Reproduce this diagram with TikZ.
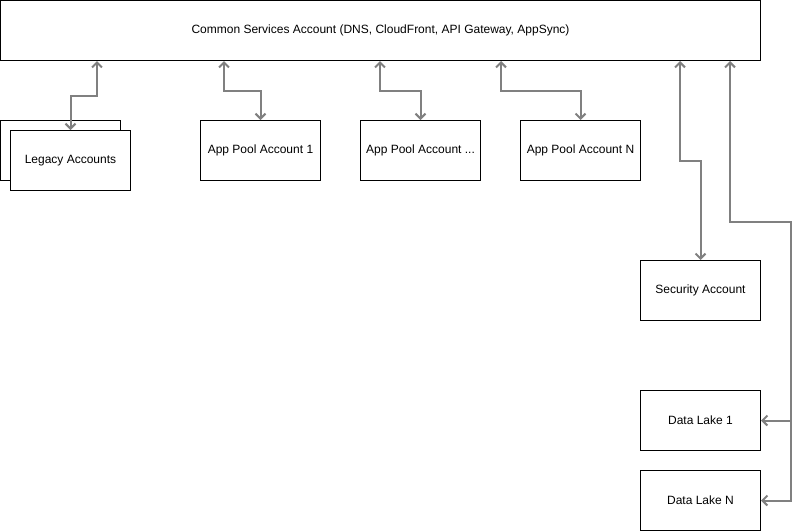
\documentclass[tikz,border=0pt]{standalone}
\usepackage{fontspec}
\setmainfont{Liberation Sans}
\usetikzlibrary{arrows.meta}

\begin{document}
\begin{tikzpicture}[x=1pt,y=-1pt]
\tikzstyle{account} = [draw=black, line width=1pt, fill=white, minimum width=120pt, minimum height=60pt, inner sep=0pt, font=\fontsize{12}{14}\selectfont]
\tikzstyle{link} = [draw=gray, line width=2pt, {Straight Barb[length=5pt,width=10pt]}-{Straight Barb[length=5pt,width=10pt]}]
\tikzstyle{branch} = [draw=gray, line width=2pt, -{Straight Barb[length=5pt,width=10pt]}]

\useasboundingbox (0,0) rectangle (801,531);

% top account
\node[account, minimum width=760pt] (common) at (380.5,30.5) {Common Services Account (DNS, CloudFront, API Gateway, AppSync)};

% member accounts
\node[account] (legacyback) at (60.5,150.5) {};
\node[account] (legacy) at (70.5,160.5) {Legacy Accounts};
\node[account] (pool1) at (260.5,150.5) {App Pool Account 1};
\node[account] (poolmid) at (420.5,150.5) {App Pool Account ...};
\node[account] (poolN) at (580.5,150.5) {App Pool Account N};
\node[account] (security) at (700.5,290.5) {Security Account};
\node[account] (lake1) at (700.5,420.5) {Data Lake 1};
\node[account] (lakeN) at (700.5,500.5) {Data Lake N};

% connectors
\draw[link] ([xshift=97pt]common.south west) -- ++(0,35) -| (legacy.north);
\draw[link] ([xshift=224pt]common.south west) -- ++(0,30) -| (pool1.north);
\draw[link] ([xshift=380pt]common.south west) -- ++(0,30) -| (poolmid.north);
\draw[link] ([xshift=501pt]common.south west) -- ++(0,30) -| (poolN.north);
\draw[link] ([xshift=680pt]common.south west) -- ++(0,100) -| (security.north);
\draw[link] ([xshift=730pt]common.south west) -- ++(0,161) -- ++(61,0) coordinate (bus) |- (lakeN.east);
\draw[branch] (bus |- lake1.east) -- (lake1.east);

\end{tikzpicture}
\end{document}
